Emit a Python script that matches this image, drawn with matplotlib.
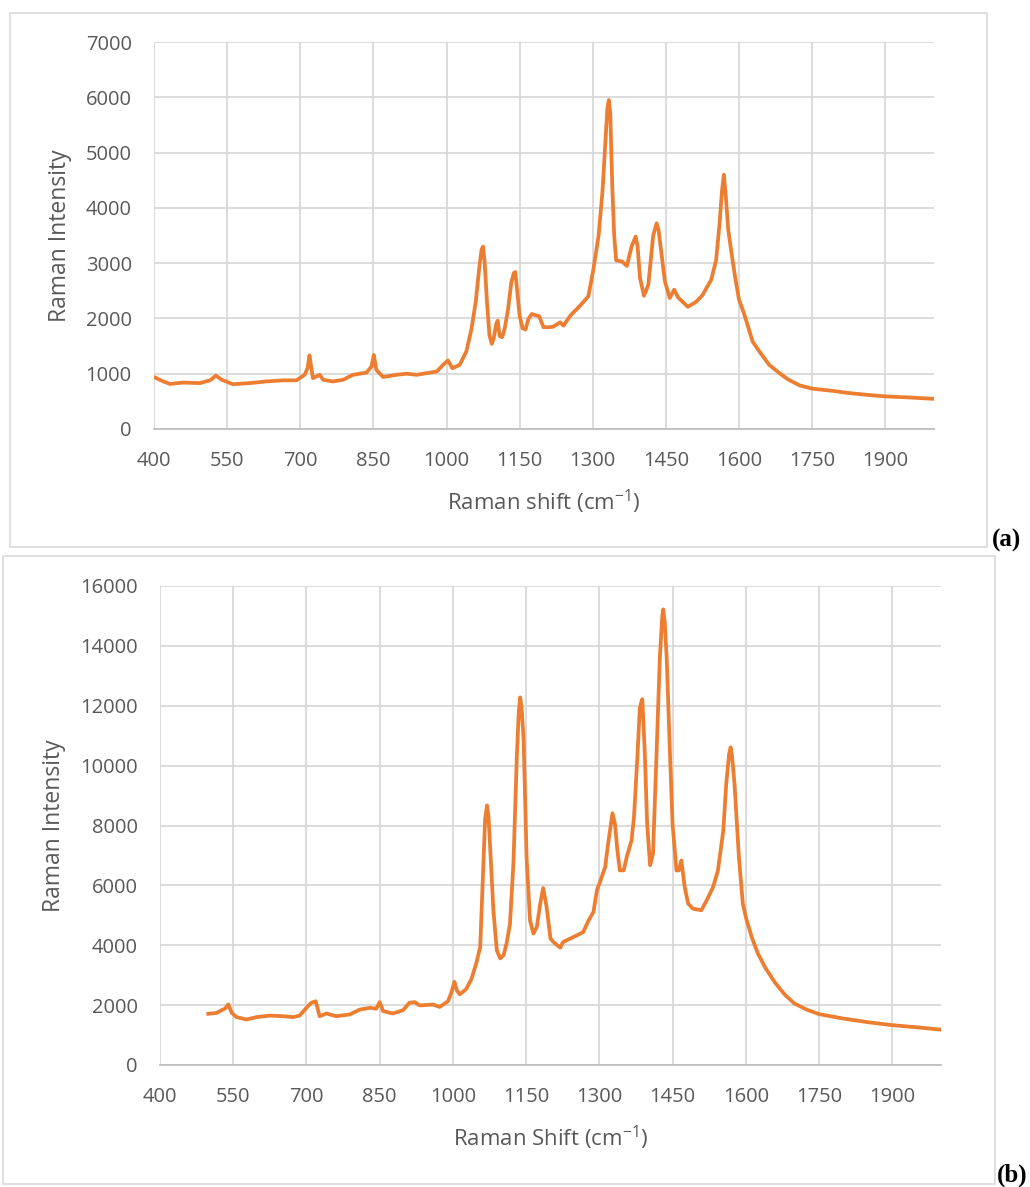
import matplotlib
matplotlib.use('Agg')
import matplotlib.pyplot as plt
from matplotlib.patches import Rectangle

plt.rcParams['font.family'] = ['Open Sans', 'DejaVu Sans']
plt.rcParams['mathtext.fontset'] = 'custom'
plt.rcParams['mathtext.rm'] = 'Open Sans'
plt.rcParams['mathtext.default'] = 'regular'

# spectrum (a)
shift_a = [400, 419, 433, 460, 494, 515, 527, 539, 562, 596, 630, 664, 692, 709, 715, 719, 722, 726, 733, 740,
           747, 767, 788, 808, 836, 846, 851, 856, 870, 897, 918, 939, 959, 980, 993, 1003, 1012, 1027, 1041, 1051,
           1060, 1067, 1072, 1075, 1078, 1083, 1088, 1093, 1097, 1102, 1105, 1109, 1114, 1119, 1126, 1133, 1138, 1141, 1145, 1150,
           1156, 1162, 1168, 1175, 1182, 1190, 1199, 1210, 1219, 1233, 1240, 1254, 1274, 1291, 1301, 1312, 1320, 1326, 1330, 1333,
           1336, 1340, 1344, 1348, 1360, 1370, 1380, 1388, 1392, 1397, 1405, 1414, 1424, 1431, 1435, 1439, 1448, 1458, 1467, 1475,
           1495, 1512, 1525, 1543, 1553, 1560, 1565, 1569, 1573, 1578, 1584, 1592, 1600, 1611, 1628, 1642, 1662, 1683, 1700, 1724,
           1750, 1792, 1826, 1860, 1900, 1950, 2000]
intens_a = [940, 860, 815, 840, 830, 880, 965, 890, 810, 830, 860, 880, 880, 980, 1100, 1330, 1150, 920, 950, 980,
            890, 860, 890, 980, 1020, 1130, 1340, 1070, 940, 980, 1000, 980, 1010, 1040, 1160, 1240, 1100, 1160, 1410, 1800,
            2300, 2900, 3250, 3300, 3050, 2300, 1700, 1540, 1650, 1900, 1960, 1680, 1660, 1800, 2150, 2650, 2820, 2840, 2500, 2050,
            1820, 1800, 1990, 2080, 2060, 2040, 1840, 1840, 1850, 1930, 1870, 2050, 2230, 2400, 2870, 3500, 4300, 5200, 5800, 5950,
            5700, 4400, 3500, 3050, 3030, 2950, 3310, 3480, 3300, 2730, 2410, 2610, 3500, 3720, 3600, 3310, 2670, 2370, 2520, 2380,
            2210, 2300, 2420, 2700, 3050, 3700, 4300, 4600, 4200, 3600, 3220, 2750, 2340, 2070, 1580, 1400, 1160, 1010, 900, 790,
            730, 690, 650, 620, 590, 570, 545]

# spectrum (b)
shift_b = [499, 516, 526, 533, 540, 547, 557, 577, 598, 625, 652, 673, 686, 700, 710, 719, 727, 741, 761, 789,
           809, 830, 843, 850, 857, 877, 898, 911, 922, 932, 959, 973, 990, 997, 1003, 1008, 1014, 1027, 1038, 1048,
           1056, 1063, 1066, 1070, 1073, 1076, 1083, 1090, 1097, 1104, 1110, 1117, 1124, 1131, 1135, 1138, 1141, 1145, 1151, 1158,
           1165, 1172, 1179, 1185, 1192, 1200, 1209, 1220, 1226, 1240, 1254, 1267, 1278, 1288, 1295, 1305, 1312, 1318, 1327, 1332,
           1337, 1342, 1350, 1356, 1366, 1371, 1378, 1383, 1388, 1393, 1398, 1404, 1410, 1417, 1424, 1429, 1431, 1434, 1438, 1445,
           1450, 1458, 1463, 1468, 1475, 1482, 1492, 1509, 1520, 1533, 1543, 1554, 1560, 1566, 1569, 1572, 1577, 1586, 1594, 1601,
           1612, 1625, 1640, 1660, 1680, 1700, 1725, 1750, 1800, 1850, 1900, 1950, 2000]
intens_b = [1710, 1740, 1830, 1880, 2020, 1740, 1600, 1520, 1600, 1650, 1630, 1600, 1650, 1910, 2080, 2130, 1630, 1720, 1630, 1690,
            1850, 1910, 1880, 2100, 1800, 1720, 1830, 2080, 2100, 1990, 2020, 1940, 2130, 2420, 2780, 2500, 2360, 2530, 2870, 3400,
            3940, 6940, 8200, 8670, 8300, 7390, 5170, 3830, 3560, 3670, 4060, 4720, 6720, 10280, 11800, 12280, 11900, 10830, 6940, 4830,
            4390, 4610, 5390, 5910, 5280, 4220, 4060, 3920, 4110, 4220, 4330, 4440, 4830, 5110, 5830, 6280, 6610, 7390, 8410, 8050,
            7170, 6500, 6500, 6940, 7500, 8280, 10280, 11940, 12220, 10500, 8060, 6670, 7060, 10280, 13610, 15000, 15220, 14800, 13610, 10280,
            8060, 6500, 6500, 6830, 5940, 5390, 5220, 5170, 5500, 5940, 6500, 7830, 9390, 10400, 10610, 10300, 9390, 6940, 5390, 4890,
            4280, 3720, 3250, 2750, 2350, 2050, 1850, 1700, 1550, 1430, 1330, 1260, 1180]

xticks = [400, 550, 700, 850, 1000, 1150, 1300, 1450, 1600, 1750, 1900]
yticks_a = [0, 1000, 2000, 3000, 4000, 5000, 6000, 7000]
yticks_b = [0, 2000, 4000, 6000, 8000, 10000, 12000, 14000, 16000]

W, H = 1030, 1187
fig = plt.figure(figsize=(W/100, H/100), dpi=100)

# outer frames of the two pictures
fig.patches.append(Rectangle((10/W, 1-547/H), 977/W, 534/H, transform=fig.transFigure,
                             fill=False, edgecolor='#d9d9d9', lw=1.2))
fig.patches.append(Rectangle((3/W, 1-1184/H), 992/W, 628/H, transform=fig.transFigure,
                             fill=False, edgecolor='#d9d9d9', lw=1.2))

ax1 = fig.add_axes([154/W, 1-429/H, 780/W, 387/H])
ax2 = fig.add_axes([160/W, 1-1065/H, 781/W, 479/H])

for ax, x, y, yt, ymax, xlab in [(ax1, shift_a, intens_a, yticks_a, 7000, 'Raman shift (cm$^{-1}$)'),
                                  (ax2, shift_b, intens_b, yticks_b, 16000, 'Raman Shift (cm$^{-1}$)')]:
    ax.plot(x, y, color='#ED7D31', lw=2.7, solid_joinstyle='round', zorder=3)
    ax.set_xlim(400, 2000)
    ax.set_ylim(0, ymax)
    ax.set_xticks(xticks)
    ax.set_yticks(yt)
    ax.grid(True, color='#d9d9d9', lw=1.3)
    ax.set_axisbelow(True)
    for s in ['top', 'right', 'left']:
        ax.spines[s].set_visible(False)
    ax.spines['bottom'].set_color('#bfbfbf')
    ax.spines['bottom'].set_linewidth(1.3)
    ax.tick_params(length=0, labelsize=14.5, labelcolor='#595959', pad=16)
    ax.set_xlabel(xlab, fontsize=16, color='#595959', labelpad=12)
    ax.set_ylabel('Raman Intensity', fontsize=16.5, color='#595959', labelpad=10)

fig.text(992/W, 1-547/H, '(a)', fontsize=18, fontweight='bold', family='Liberation Serif', va='baseline')
fig.text(997/W, 1-1182/H, '(b)', fontsize=18, fontweight='bold', family='Liberation Serif', va='baseline')

fig.savefig('out.png', dpi=100)
